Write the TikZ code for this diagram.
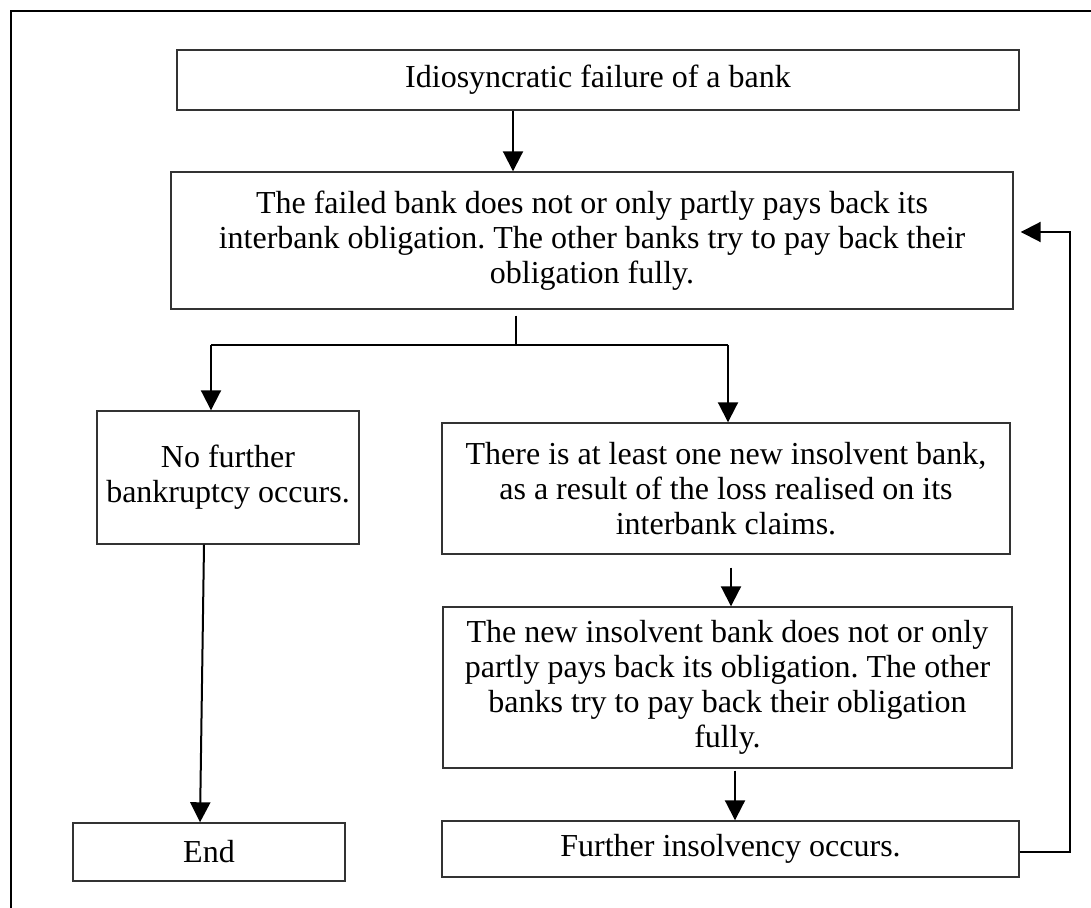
\documentclass[tikz,border=0pt]{standalone}
\usepackage{fontspec}
\setmainfont{Liberation Serif}
\usetikzlibrary{arrows.meta}
\frenchspacing
\tikzset{
bx/.style={draw=black!80,line width=0.7pt,rectangle,inner sep=0pt,align=center,font=\fontsize{16}{17.5}\selectfont},
arr/.style={-{Triangle[length=10pt,width=10pt]},line width=1pt}
}
\begin{document}
\begin{tikzpicture}[x=0.5pt,y=-0.5pt]
\useasboundingbox (0,0) rectangle (1091,908);
\draw[line width=1.2pt] (11,908) -- (11,11) -- (1091,11);
\path
(598,80) node[bx,minimum width=421pt,minimum height=30pt] (idio) {Idiosyncratic failure of a bank}
(592,240.5) node[bx,minimum width=421pt,minimum height=68.5pt] (fail) {The failed bank does not or only partly pays back its\\interbank obligation. The other banks try to pay back their\\obligation fully.}
(228,477.5) node[bx,minimum width=131pt,minimum height=66.5pt] (nofur) {No further\\bankruptcy occurs.}
(726,488.5) node[bx,minimum width=284pt,minimum height=65.5pt] (atleast) {There is at least one new insolvent bank,\\as a result of the loss realised on its\\interbank claims.}
(727.5,687.5) node[bx,minimum width=284.5pt,minimum height=80.5pt] (newins) {The new insolvent bank does not or only\\partly pays back its obligation. The other\\banks try to pay back their obligation\\fully.}
(730.5,849) node[bx,minimum width=288.5pt,minimum height=28pt] (further) {Further insolvency occurs.}
(209,852) node[bx,minimum width=136pt,minimum height=29pt] (theend) {End};
\coordinate (split) at (516,345);
\coordinate (lj) at (211,345);
\coordinate (rj) at (728,345);
\coordinate (loop) at (1070,232);
\draw[arr] ([xshift=-42.5pt]idio.south) -- ([xshift=-42.5pt]idio.south |- fail.north);
\draw[line width=1pt] ([yshift=-3pt]fail.south -| split) -- (split);
\draw[line width=1pt] (lj) -- (rj);
\draw[arr] (lj) -- (lj |- nofur.north);
\draw[arr] (rj) -- (rj |- atleast.north);
\draw[arr] ([xshift=2.5pt,yshift=-6.5pt]atleast.south) -- ([xshift=2.5pt]atleast.south |- newins.north);
\draw[arr] ([xshift=3.75pt,yshift=-1pt]newins.south) -- ([xshift=3.75pt]newins.south |- further.north);
\draw[arr] ([xshift=-12pt]nofur.south) -- ([xshift=-4.5pt]theend.north);
%\draw[arr] (further.east) -| (fail.east);
\draw[arr] ([yshift=-1.5pt]further.east) -| (loop) -- ([xshift=3.5pt]fail.east |- loop);
\end{tikzpicture}
\end{document}
